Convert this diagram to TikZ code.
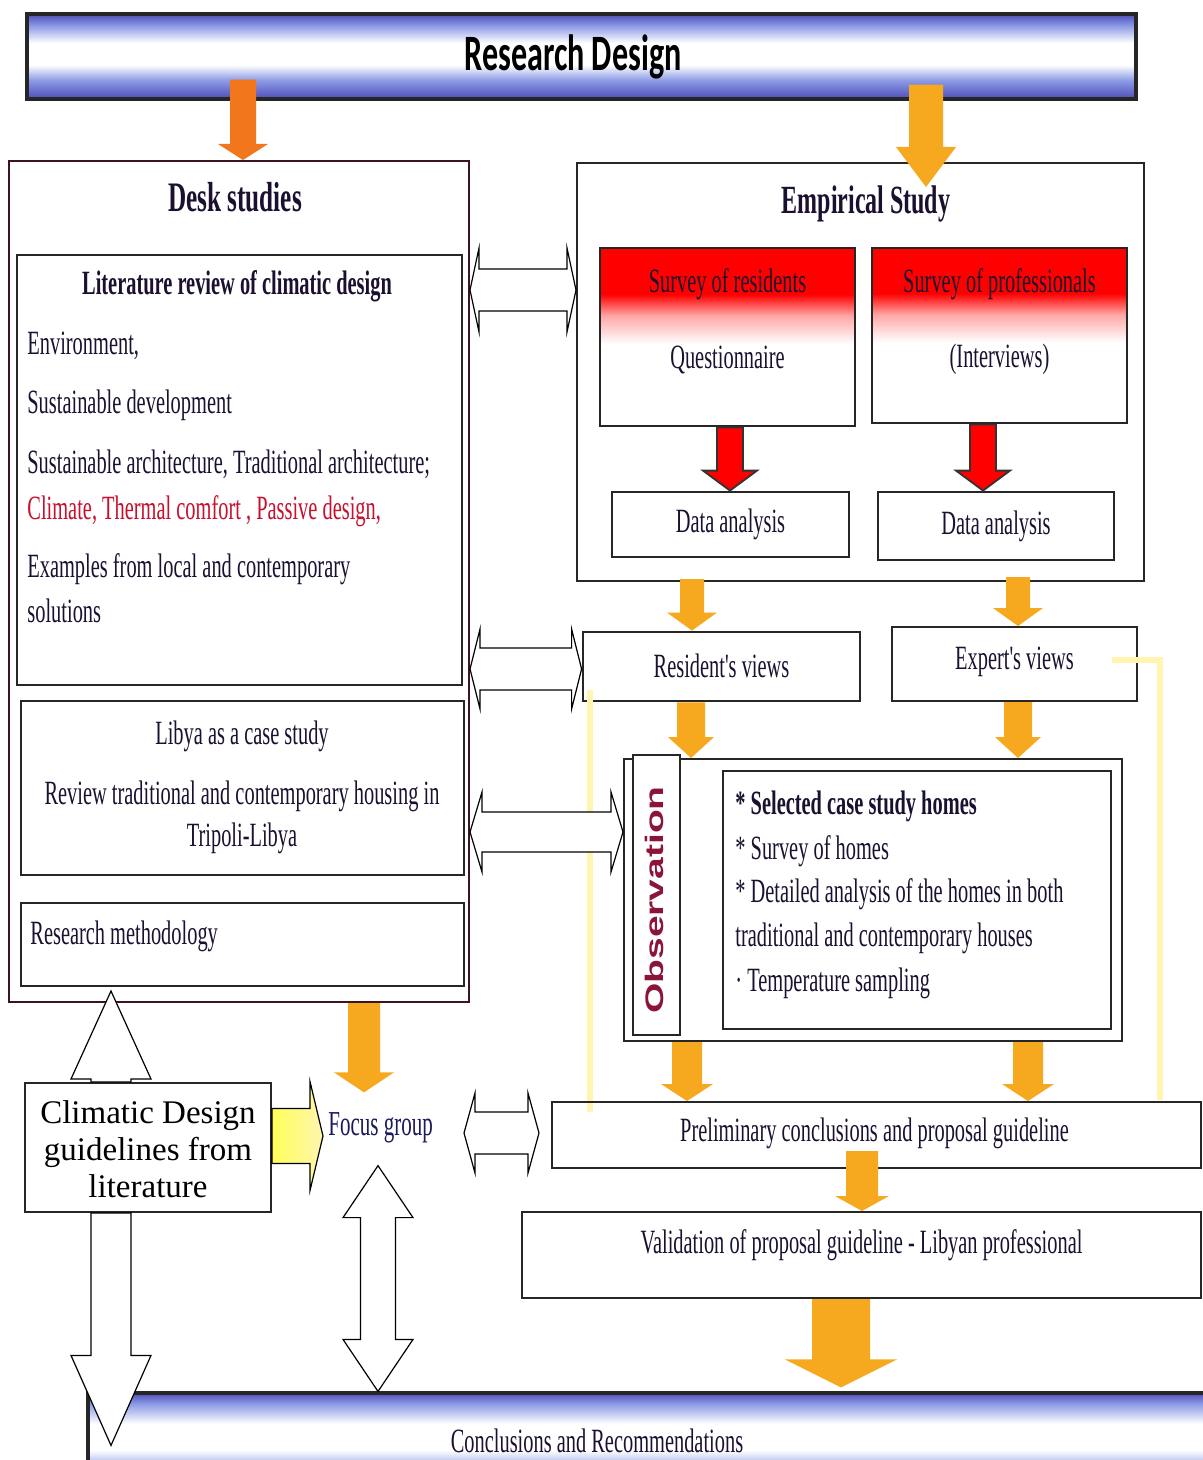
\documentclass[tikz,border=0pt]{standalone}
\usepackage{fontspec}
\setmainfont{Liberation Serif}
\newfontfamily\condserif[FakeStretch=0.6]{Liberation Serif}
\newfontfamily\condsans[FakeStretch=0.63]{Carlito}
\newfontfamily\labelsans{Liberation Sans}
\usetikzlibrary{fit,calc}
\definecolor{inkdark}{HTML}{1C1030}
\definecolor{barblue}{HTML}{4E4CB8}
\definecolor{barlight}{HTML}{8C9BE6}
\definecolor{climred}{HTML}{C8102E}
\definecolor{obsred}{HTML}{8A1538}
\definecolor{focusblue}{HTML}{1A1A5C}
\definecolor{arroworange}{HTML}{F2761C}
\definecolor{arrowgold}{HTML}{F6A91E}
\definecolor{paleyellow}{HTML}{FFF5B0}
\definecolor{deskline}{HTML}{3C1420}

% shadings for the two banners and the survey boxes
\pgfdeclareverticalshading{titlebar}{100bp}{color(0bp)=(barblue); color(25bp)=(barblue); color(36bp)=(barlight); color(45bp)=(white); color(58bp)=(white); color(68bp)=(barlight); color(75bp)=(barblue); color(100bp)=(barblue)}
\pgfdeclareverticalshading{closebar}{100bp}{color(0bp)=(barlight); color(25bp)=(barlight); color(38bp)=(white); color(55bp)=(white); color(68bp)=(barlight); color(75bp)=(barblue); color(100bp)=(barblue)}
\pgfdeclareverticalshading{redfade}{100bp}{color(0bp)=(white); color(48bp)=(white); color(56bp)=(red!35!white); color(62bp)=(red); color(100bp)=(red)}

\tikzset{
  frame/.style={draw=black!85, line width=1pt, inner sep=0pt},
  thickframe/.style={frame, line width=1.4pt},
  deskframe/.style={frame, draw=deskline},
  banner/.style={frame, line width=1.6pt, shading=titlebar},
  surveybox/.style={thickframe, shading=redfade},
  bodytext/.style={font=\condserif\fontsize{17}{20}\selectfont, text=inkdark, inner sep=0pt},
  itemtext/.style={bodytext, anchor=west},
  headtext/.style={font=\condserif\bfseries\fontsize{21}{24}\selectfont, text=inkdark, inner sep=0pt},
  goldarrow/.style={fill=arrowgold},
  redarrow/.style={fill=red, draw=black!80, line width=0.9pt},
  openarrow/.style={fill=white, draw=black, line width=0.6pt},
  glow/.style={draw=paleyellow, line width=3pt}
}

% block arrows: [style]{fixed coordinate}{from}{to}{half shaft}{half head}{head length}
\newcommand\arrowdown[7][]{%
  \path[#1] let \p3=(#2,0), \p1=(#3), \p2=(#4) in
    (\x3-#5,\y1) -- (\x3-#5,\y2+#7) -- (\x3-#6,\y2+#7) -- (\x3,\y2)
    -- (\x3+#6,\y2+#7) -- (\x3+#5,\y2+#7) -- (\x3+#5,\y1) -- cycle;}
\newcommand\arrowup[7][]{%
  \path[#1] let \p3=(#2,0), \p1=(#3), \p2=(#4) in
    (\x3-#5,\y1) -- (\x3-#5,\y2-#7) -- (\x3-#6,\y2-#7) -- (\x3,\y2)
    -- (\x3+#6,\y2-#7) -- (\x3+#5,\y2-#7) -- (\x3+#5,\y1) -- cycle;}
\newcommand\arrowright[7][]{%
  \path[#1] let \p3=(0,#2), \p1=(#3), \p2=(#4) in
    (\x1,\y3+#5) -- (\x2-#7,\y3+#5) -- (\x2-#7,\y3+#6) -- (\x2,\y3)
    -- (\x2-#7,\y3-#6) -- (\x2-#7,\y3-#5) -- (\x1,\y3-#5) -- cycle;}
\newcommand\arrowboth[7][]{%
  \path[#1] let \p3=(0,#2), \p1=(#3), \p2=(#4) in
    (\x1,\y3) -- (\x1+#7,\y3+#6) -- (\x1+#7,\y3+#5) -- (\x2-#7,\y3+#5)
    -- (\x2-#7,\y3+#6) -- (\x2,\y3) -- (\x2-#7,\y3-#6) -- (\x2-#7,\y3-#5)
    -- (\x1+#7,\y3-#5) -- (\x1+#7,\y3-#6) -- cycle;}
\newcommand\arrowupdown[7][]{%
  \path[#1] let \p3=(#2,0), \p1=(#3), \p2=(#4) in
    (\x3,\y1) -- (\x3+#6,\y1-#7) -- (\x3+#5,\y1-#7) -- (\x3+#5,\y2+#7)
    -- (\x3+#6,\y2+#7) -- (\x3,\y2) -- (\x3-#6,\y2+#7) -- (\x3-#5,\y2+#7)
    -- (\x3-#5,\y1-#7) -- (\x3-#6,\y1-#7) -- cycle;}

\begin{document}
\begin{tikzpicture}[x=0.5pt, y=-0.5pt]
\useasboundingbox[fill=white] (0,0) rectangle (1203,1460);

% banner
\node[banner, fit={(27,14) (1136,99)}] (title) {};
\node[font=\condsans\bfseries\fontsize{25.5}{28}\selectfont, text=black] at (573,57) {Research Design};

% desk studies column
\node[deskframe, fit={(9,161) (469,1002)}] (desk) {};
\node[headtext] at (235,197) {Desk studies};
\node[thickframe, fit={(17,255) (462,685)}] (lit) {};
\node[bodytext, font=\condserif\bfseries\fontsize{17}{20}\selectfont] at (237,286) {Literature review of climatic design};
\node[itemtext] at (27,346) {Environment,};
\node[itemtext] at (27,405) {Sustainable development};
\node[itemtext] at (27,464) {Sustainable architecture, Traditional architecture;};
\node[itemtext, text=climred] at (27,511) {Climate, Thermal comfort , Passive design,};
\node[itemtext] at (27,569) {Examples from local and contemporary};
\node[itemtext] at (27,611) {solutions};
\node[thickframe, fit={(21,701) (464,875)}] (libya) {};
\node[bodytext] at (242,736) {Libya as a case study};
\node[bodytext] at (242,796) {Review traditional and contemporary housing in};
\node[bodytext] at (242,838) {Tripoli-Libya};
\node[thickframe, fit={(21,903) (464,986)}] (method) {};
\node[itemtext] at (30,936) {Research methodology};

% empirical study column
\node[frame, fit={(577,163) (1144,581)}] (emp) {};
\node[headtext, font=\condserif\bfseries\fontsize{20}{24}\selectfont] at (866,204) {Empirical Study};
\node[surveybox, fit={(600,248) (855,426)}] (survR) {};
\node[bodytext] at ($(survR.north)+(0,38)$) {Survey of residents};
\node[bodytext] at ($(survR.north)+(0,113)$) {Questionnaire};
\node[surveybox, fit={(872,248) (1127,423)}] (survP) {};
\node[bodytext] at ($(survP.north)+(0,38)$) {Survey of professionals};
\node[bodytext] at ($(survP.north)+(0,113)$) {(Interviews)};
\node[thickframe, fit={(612,492) (849,557)}] (dataL) {};
\node[bodytext] at (dataL.center) {Data analysis};
\node[thickframe, fit={(878,492) (1114,560)}] (dataR) {};
\node[bodytext] at (dataR.center) {Data analysis};

\node[thickframe, fit={(583,632) (860,701)}] (resv) {};
\node[bodytext] at ($(resv.center)+(0,-1)$) {Resident's views};
\node[frame, fit={(892,627) (1137,701)}] (expv) {};
\node[bodytext] at ($(expv.center)+(0,-2)$) {Expert's views};

% faint guide lines
\draw[glow] (590,690) -- (590,1112);
\draw[glow] (1112,660) -| (1160,1100);

% observation
\node[frame, fit={(624,759) (1122,1041)}] (obs) {};
\node[frame, fit={(633,755) (680,1035)}, fill=white] (obslabel) {};
\node[rotate=90, font=\labelsans\bfseries\fontsize{19.5}{20}\selectfont, text=obsred] at ($(obslabel.center)+(-2,5)$) {\scalebox{1}[0.65]{Observation}};
\node[thickframe, fit={(723,771) (1111,1029)}] (obsitems) {};
\node[itemtext, font=\condserif\bfseries\fontsize{17}{20}\selectfont] at (735,806) {* Selected case study homes};
\node[itemtext] at (735,851) {* Survey of homes};
\node[itemtext] at (735,894) {* Detailed analysis of the homes in both};
\node[itemtext] at (735,938) {traditional and contemporary houses};
\node[itemtext] at (735,983) {· Temperature sampling};

% lower part
\node[frame, fit={(552,1102) (1201,1168)}] (prelim) {};
\node[bodytext] at ($(prelim.center)+(-2,-2)$) {Preliminary conclusions and proposal guideline};
\node[frame, fit={(522,1212) (1201,1298)}] (valid) {};
\node[bodytext] at ($(valid.center)+(0,-10)$) {Validation of proposal guideline - Libyan professional};
\node[banner, shading=closebar, fit={(88,1393) (1210,1470)}] (concl) {};
\node[bodytext] at (597,1441) {Conclusions and Recommendations};

\node[frame, fit={(25,1083) (271,1212)}] (clim) {};
\node[align=center, font=\fontsize{16.5}{18.5}\selectfont, inner sep=0pt] at ($(clim.center)+(0,2)$) {Climatic Design\\guidelines from\\literature};
\node[itemtext, text=focusblue, font=\condserif\fontsize{17.5}{20}\selectfont] (focus) at (328,1128) {Focus group};

% solid arrows
\arrowdown[fill=arroworange]{243}{$(title.south)+(0,-21)$}{desk.north}{6.5pt}{12.5pt}{8pt}
\arrowdown[goldarrow]{926}{$(title.south)+(0,-16)$}{$(emp.north)+(0,25)$}{8.5pt}{15pt}{20pt}
\arrowdown[redarrow]{730}{survR.south}{dataL.north}{6.5pt}{13.5pt}{10pt}
\arrowdown[redarrow]{983}{survP.south}{dataR.north}{6.5pt}{13.5pt}{10pt}
\arrowdown[goldarrow]{692}{$(emp.south)+(0,-3)$}{resv.north}{6pt}{12.5pt}{9pt}
\arrowdown[goldarrow]{1018}{$(emp.south)+(0,-5)$}{expv.north}{6pt}{12.5pt}{9pt}
\arrowdown[goldarrow]{691}{resv.south}{obs.north}{7pt}{11.5pt}{10.5pt}
\arrowdown[goldarrow]{1018}{expv.south}{obs.north}{7pt}{11.5pt}{10.5pt}
\arrowdown[goldarrow]{687}{obs.south}{prelim.north}{7.5pt}{13pt}{8.5pt}
\arrowdown[goldarrow]{1028}{obs.south}{prelim.north}{7.5pt}{13pt}{8.5pt}
\arrowdown[goldarrow]{862}{$(prelim.south)+(0,-18)$}{valid.north}{8pt}{13.5pt}{7.5pt}
\arrowdown[goldarrow]{841}{valid.south}{$(concl.north)+(0,-4)$}{14.5pt}{28pt}{14pt}
\arrowdown[goldarrow]{364}{desk.south}{$(focus.north)+(0,-20)$}{8pt}{15pt}{10pt}

% open arrows
\arrowboth[openarrow]{290}{desk.east}{emp.west}{10.5pt}{21pt}{4.5pt}
\arrowboth[openarrow]{669}{desk.east}{resv.west}{10.5pt}{20pt}{5pt}
\arrowboth[openarrow]{832}{desk.east}{obs.west}{10pt}{20pt}{6pt}
\arrowboth[openarrow]{1133}{$(prelim.west)+(-87,0)$}{$(prelim.west)+(-12,0)$}{10.5pt}{20pt}{5.5pt}
\arrowup[openarrow]{111}{clim.north}{$(desk.south)+(0,-12)$}{10pt}{20pt}{44pt}
\arrowdown[openarrow]{111}{clim.south}{$(concl.north)+(0,54)$}{10pt}{20pt}{45pt}
\arrowupdown[openarrow]{378}{$(focus.south)+(0,22)$}{concl.north}{8.75pt}{17.5pt}{26pt}
\arrowright[draw=black, line width=0.6pt, left color=yellow!65!white, right color=paleyellow]{1136}{clim.east}{$(focus.west)+(-5,0)$}{13.75pt}{27.25pt}{6.5pt}
\end{tikzpicture}
\end{document}
